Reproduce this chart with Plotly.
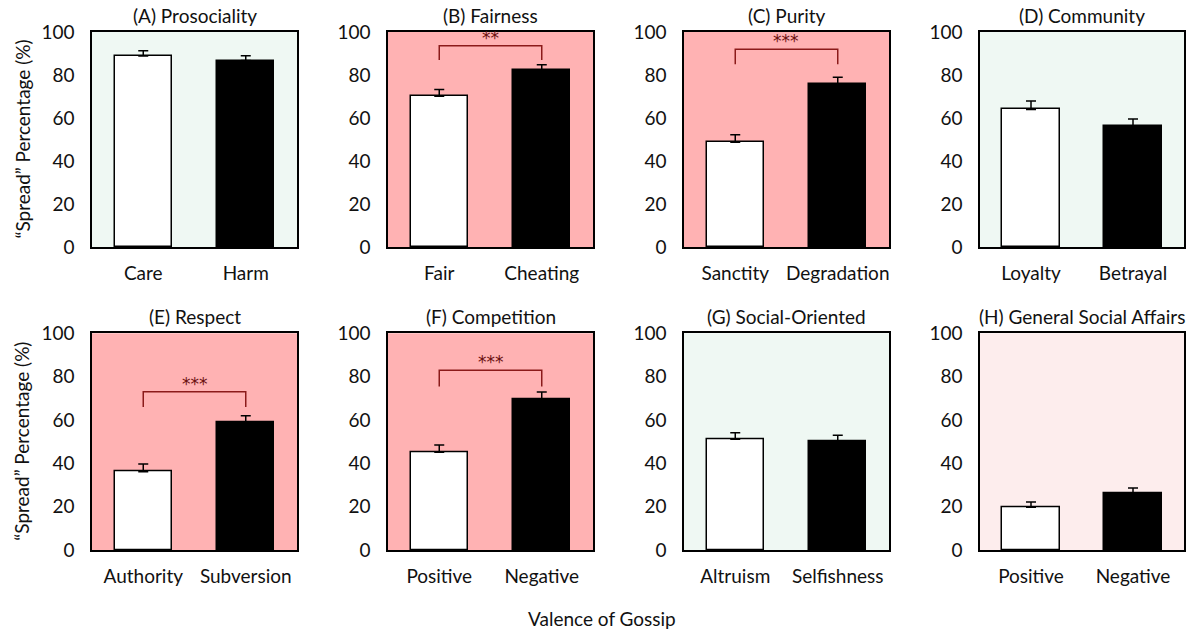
import plotly.graph_objects as go

W, H = 1204, 630

titles = ["(A) Prosociality", "(B) Fairness", "(C) Purity", "(D) Community",
          "(E) Respect", "(F) Competition", "(G) Social-Oriented", "(H) General Social Affairs"]
left_labels = ["Care", "Fair", "Sanctity", "Loyalty", "Authority", "Positive", "Altruism", "Positive"]
right_labels = ["Harm", "Cheating", "Degradation", "Betrayal", "Subversion", "Negative", "Selfishness", "Negative"]
left_values = [88.8, 70.1, 48.7, 64.0, 36.1, 45.1, 51.1, 19.7]
right_values = [86.7, 82.3, 75.7, 56.3, 58.9, 69.5, 50.0, 26.2]
left_err = [2.5, 3.2, 3.5, 3.9, 3.6, 3.4, 3.0, 2.4]
right_err = [2.3, 2.5, 3.2, 3.2, 3.1, 3.4, 3.0, 2.4]
bg_colors = ["#eff8f3", "#ffb2b3", "#ffb2b3", "#eff8f3",
             "#ffb2b3", "#ffb2b3", "#eff8f3", "#fdeded"]
# significance brackets
sig_panels = [1, 2, 4, 5]
sig_stars = ["**", "***", "***", "***"]
sig_top = [93.6, 92.0, 73.0, 83.0]
sig_leg = [87.0, 85.0, 66.0, 75.4]

yticks = [0, 20, 40, 60, 80, 100]
ytitle = "\u201cSpread\u201d Percentage (%)"
xtitle = "Valence of Gossip"

FONT = "Lato, Open Sans, sans-serif"

x_px = [(92, 297), (388, 593), (684, 889), (980, 1184)]
y_px = [(32, 247), (333.3, 550)]

fig = go.Figure()
layout = {}
annotations = []
shapes = []

for i in range(8):
    r, c = divmod(i, 4)
    ax = "" if i == 0 else str(i + 1)
    xa, ya = "x" + ax, "y" + ax
    x0, x1 = x_px[c]
    yt, yb = y_px[r]
    cats = [left_labels[i], right_labels[i]]
    fig.add_trace(go.Bar(
        x=[0, 1], y=[left_values[i], right_values[i]],
        width=0.56,
        marker=dict(color=["white", "black"], line=dict(color="black", width=1.5)),
        error_y=dict(type="data", symmetric=False,
                     array=[left_err[i], right_err[i]], arrayminus=[0, 0],
                     color="black", thickness=1.5, width=5),
        xaxis=xa, yaxis=ya, showlegend=False, hoverinfo="skip"))
    layout["xaxis" + ax] = dict(
        domain=[x0 / W, x1 / W], anchor=ya, range=[-0.5, 1.5], automargin=False,
        tickmode="array", tickvals=[0, 1], ticktext=cats, ticklabelstandoff=8,
        showline=True, linecolor="black", linewidth=1.5, mirror=True,
        showgrid=False, zeroline=False, ticks="", fixedrange=True,
        tickfont=dict(family=FONT, size=19, color="#111"))
    layout["yaxis" + ax] = dict(
        domain=[1 - yb / H, 1 - yt / H], anchor=xa, range=[0, 100], automargin=False,
        tickmode="array", tickvals=yticks, ticklabelstandoff=12,
        showline=True, linecolor="black", linewidth=1.5, mirror=True,
        showgrid=False, zeroline=False, ticks="", fixedrange=True,
        tickfont=dict(family=FONT, size=19, color="#111"))
    shapes.append(dict(type="rect", xref=xa + " domain", yref=ya + " domain",
                       x0=0, x1=1, y0=0, y1=1, fillcolor=bg_colors[i],
                       line=dict(width=0), layer="below"))
    annotations.append(dict(text=titles[i], x=(x0 + x1) / 2 / W, y=1 - (yt - 3) / H,
                            xref="paper", yref="paper", xanchor="center", yanchor="bottom",
                            showarrow=False, font=dict(family=FONT, size=19, color="#111")))

for k, p in enumerate(sig_panels):
    ax = "" if p == 0 else str(p + 1)
    xa, ya = "x" + ax, "y" + ax
    shapes.append(dict(type="path", xref=xa, yref=ya,
                       path=f"M 0 {sig_leg[k]} L 0 {sig_top[k]} L 1 {sig_top[k]} L 1 {sig_leg[k]}",
                       line=dict(color="#8b1a1a", width=1.5)))
    annotations.append(dict(text=sig_stars[k], x=0.5, y=sig_top[k], xref=xa, yref=ya,
                            xanchor="center", yanchor="bottom", yshift=-4, showarrow=False,
                            font=dict(family="DejaVu Sans", size=17, color="#6b1010")))

for r in range(2):
    yt, yb = y_px[r]
    annotations.append(dict(text=ytitle, x=22 / W, y=1 - (yt + yb) / 2 / H,
                            xref="paper", yref="paper", textangle=-90,
                            xanchor="center", yanchor="middle", showarrow=False,
                            font=dict(family=FONT, size=19, color="#111")))

annotations.append(dict(text=xtitle, x=602 / W, y=1 - 618 / H, xref="paper", yref="paper",
                        xanchor="center", yanchor="middle", showarrow=False,
                        font=dict(family=FONT, size=19, color="#111")))

fig.update_layout(**layout)
fig.update_layout(width=W, height=H, margin=dict(l=0, r=0, t=0, b=0, autoexpand=False),
                  paper_bgcolor="white", plot_bgcolor="rgba(0,0,0,0)",
                  annotations=annotations, shapes=shapes, bargap=0)

fig.write_html("out.html", config={"displayModeBar": False},
               post_script="document.body.style.margin='0';")
